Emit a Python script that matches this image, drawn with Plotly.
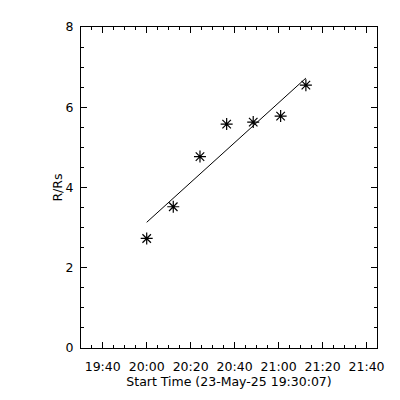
import numpy as np
import pandas as pd
import plotly.graph_objects as go

# Data
times = ["2025-05-23 20:00:00", "2025-05-23 20:12:05", "2025-05-23 20:24:14",
         "2025-05-23 20:36:22", "2025-05-23 20:48:27", "2025-05-23 21:00:55",
         "2025-05-23 21:12:24"]
r_rs = [2.73, 3.52, 4.77, 5.58, 5.63, 5.78, 6.55]

x_range = ["2025-05-23 19:30:07", "2025-05-23 21:44:45"]
y_range = [0, 8]

t = pd.to_datetime(times)
t0 = t[0]
mins = np.array([(ti - t0).total_seconds() / 60.0 for ti in t])
slope, icpt = np.polyfit(mins, np.array(r_rs), 1)
fit_t = [t[0], t[-1]]
fit_y = [icpt + slope * mins[0], icpt + slope * mins[-1]]

FONT = "DejaVu Sans"

fig = go.Figure()
fig.add_trace(go.Scatter(x=fit_t, y=fit_y, mode="lines",
                         line=dict(color="black", width=1), showlegend=False))
fig.add_trace(go.Scatter(x=t, y=r_rs, mode="markers",
                         marker=dict(symbol="asterisk-open", size=10, color="black",
                                     line=dict(color="black", width=1.2)),
                         showlegend=False))

# page body has an 8px margin, so the figure is 392 px and offset accordingly
fig.update_layout(
    width=392, height=392,
    margin=dict(l=73, r=23, t=19, b=52),
    paper_bgcolor="white", plot_bgcolor="white",
    font=dict(family=FONT, size=12, color="black"),
    xaxis=dict(
        type="date", range=x_range,
        tick0="2025-05-23 19:40:00", dtick=20 * 60 * 1000,
        tickformat="%H:%M",
        ticks="inside", ticklen=6, tickwidth=1, tickcolor="black",
        showline=True, linecolor="black", linewidth=1, mirror="ticks",
        showgrid=False, zeroline=False,
        minor=dict(dtick=5 * 60 * 1000, tick0="2025-05-23 19:40:00",
                   ticks="inside", ticklen=3, tickcolor="black", showgrid=False),
        title=dict(text="Start Time (23-May-25 19:30:07)", standoff=4,
                   font=dict(size=12.5)),
        tickfont=dict(size=12.5),
        ticklabelstandoff=7,
    ),
    yaxis=dict(
        range=y_range, dtick=2, tick0=0,
        ticks="inside", ticklen=6, tickwidth=1, tickcolor="black",
        showline=True, linecolor="black", linewidth=1, mirror="ticks",
        showgrid=False, zeroline=False,
        minor=dict(dtick=0.5, ticks="inside", ticklen=3, tickcolor="black",
                   showgrid=False),
        title=dict(text="R/Rs", standoff=0, font=dict(size=12.5)),
        tickfont=dict(size=12.5),
        ticklabelstandoff=4,
    ),
)

fig.write_html("out.html")
